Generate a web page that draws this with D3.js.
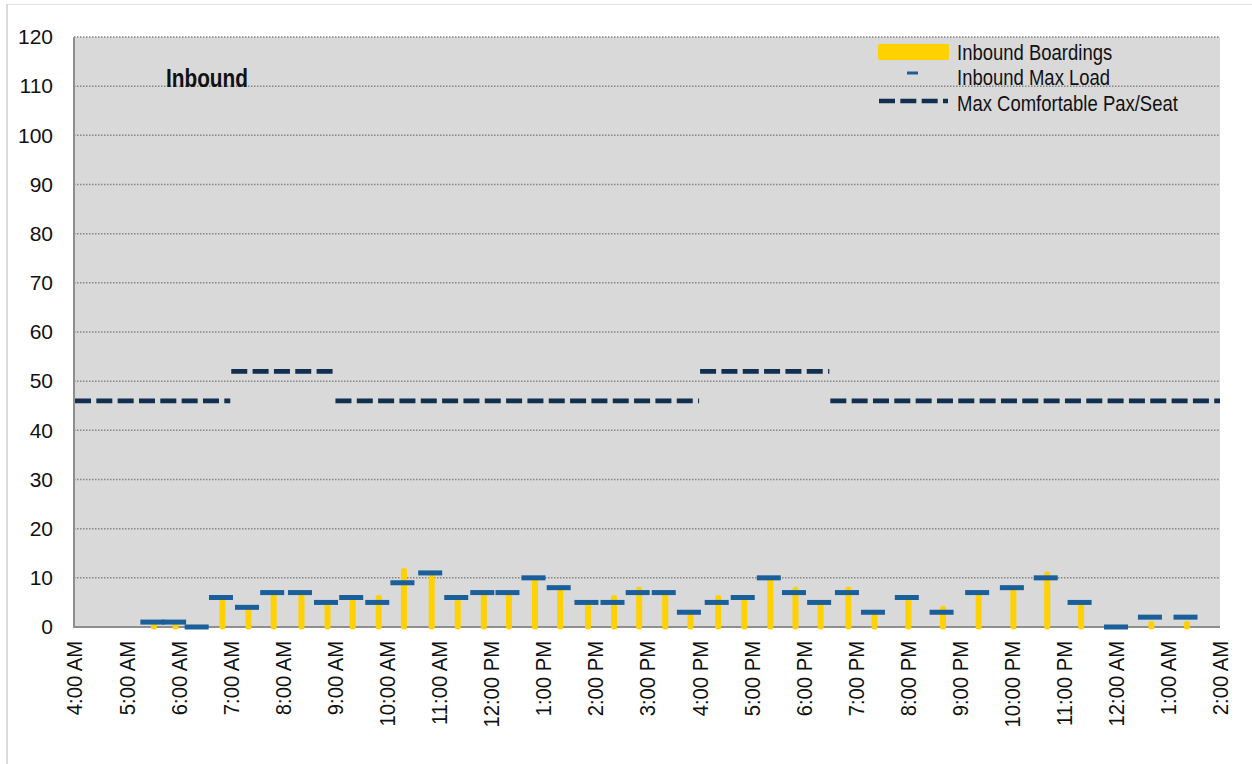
<!DOCTYPE html>
<html>
<head>
<meta charset="utf-8" />
<title>Inbound</title>
<script src="https://d3js.org/d3.v7.min.js"></script>
<style>
    body { margin: 0; background: #fff; }
    text { font-family: "Liberation Sans Narrow", "Arial Narrow", "Liberation Sans", sans-serif; fill: #111; }
</style>
</head>
<body>
<svg id="chart"></svg>
<script>
    // trip times (hours past midnight go on as 24:xx, 25:xx)
    var tripTimes = ["05:32", "05:57", "06:23", "06:51", "07:21", "07:50", "08:22", "08:52",
        "09:21", "09:51", "10:20", "10:52", "11:22", "11:52", "12:21", "12:51",
        "13:20", "13:52", "14:22", "14:51", "15:21", "15:50", "16:22", "16:52",
        "17:22", "17:51", "18:20", "18:52", "19:22", "20:01", "20:41", "21:22",
        "22:02", "22:41", "23:20", "24:02", "24:41", "25:22"];
    var boardings = [0.8, 0.8, 0, 6, 4, 7, 7, 5,
        6, 6.5, 12, 10.8, 6, 7, 7, 10,
        8, 5, 6.5, 8.2, 7, 3, 6.5, 6,
        10, 8.2, 5, 8.2, 3, 6, 4.3, 7,
        8, 11.3, 5, 0, 1.2, 1.2];
    var maxLoad = [1, 1, 0, 6, 4, 7, 7, 5,
        6, 5, 9, 11, 6, 7, 7, 10,
        8, 5, 5, 7, 7, 3, 5, 6,
        10, 7, 5, 7, 3, 6, 3, 7,
        8, 10, 5, 0, 2, 2];

    // max comfortable load, by time band
    var comfortFrom = ["04:00", "07:00", "09:00", "16:00", "18:30"];
    var comfortTo = ["07:00", "09:00", "16:00", "18:30", "26:00"];
    var comfortValue = [46, 52, 46, 52, 46];

    var yTicks = [0, 10, 20, 30, 40, 50, 60, 70, 80, 90, 100, 110, 120];
    var seriesNames = ["Inbound Boardings", "Inbound Max Load", "Max Comfortable Pax/Seat"];

    const W = 1252, H = 764;
    const pLeft = 74, pRight = 1220, pTop = 37, pBottom = 627;

    function toDate(s) {
        let p = s.split(":");
        return new Date(2020, 0, 1, +p[0], +p[1]);
    }

    let svg = d3.select('#chart').attr('width', W).attr('height', H);

    // outer frame
    svg.append('line').attr('x1', 7).attr('x2', W).attr('y1', 4.5).attr('y2', 4.5)
        .attr('stroke', '#e3e3e3').attr('stroke-width', 1);
    svg.append('line').attr('x1', 7).attr('x2', 7).attr('y1', 4).attr('y2', H)
        .attr('stroke', '#cfcfcf').attr('stroke-width', 1.5);

    let x = d3.scaleTime().domain([toDate("04:00"), toDate("26:00")]).range([pLeft, pRight]);
    let y = d3.scaleLinear().domain([0, 120]).range([pBottom, pTop]);

    // plot background
    svg.append('rect').attr('x', pLeft).attr('y', pTop)
        .attr('width', pRight - pLeft).attr('height', pBottom - pTop)
        .attr('fill', '#d9d9d9');

    // gridlines
    svg.append('g').selectAll('line')
        .data(yTicks.filter(d => d > 0))
        .enter().append('line')
        .attr('x1', pLeft).attr('x2', pRight)
        .attr('y1', d => y(d)).attr('y2', d => y(d))
        .attr('stroke', '#858585').attr('stroke-width', 1.5)
        .attr('stroke-dasharray', '1.5,1.5');

    // y axis labels
    let yAxis = d3.axisLeft(y).tickValues(yTicks).tickSize(0).tickPadding(21);
    let gy = svg.append('g').attr('transform', `translate(${pLeft},0)`).call(yAxis);
    gy.select('.domain').remove();
    gy.selectAll('text').attr('font-size', 21).attr('fill', '#111')
        .style('font-family', '"Liberation Sans Narrow", "Arial Narrow", sans-serif');

    // x axis labels (condensed look)
    let xAxis = d3.axisBottom(x).ticks(d3.timeHour.every(1))
        .tickFormat(d3.timeFormat("%-I:%M %p")).tickSize(0);
    let gx = svg.append('g').attr('transform', `translate(0,${pBottom})`).call(xAxis);
    gx.select('.domain').remove();
    gx.selectAll('text')
        .attr('font-size', 22).attr('fill', '#111')
        .style('font-family', '"Liberation Sans Narrow", "Arial Narrow", sans-serif')
        .attr('text-anchor', 'end')
        .attr('y', 0).attr('x', 0).attr('dy', '0.36em')
        .attr('transform', 'translate(0,14) rotate(-90) scale(0.92,1)');

    // axis lines
    svg.append('line').attr('x1', pLeft).attr('x2', pLeft).attr('y1', pTop).attr('y2', pBottom + 1)
        .attr('stroke', '#8f8f8f').attr('stroke-width', 2);
    svg.append('line').attr('x1', pLeft).attr('x2', pRight).attr('y1', pBottom).attr('y2', pBottom)
        .attr('stroke', '#8f8f8f').attr('stroke-width', 2);

    // comfortable load bands
    let bands = comfortValue.map((v, i) => ({ from: toDate(comfortFrom[i]), to: toDate(comfortTo[i]), value: v }));
    svg.append('g').selectAll('line')
        .data(bands)
        .enter().append('line')
        .attr('x1', d => x(d.from) + 1).attr('x2', d => x(d.to))
        .attr('y1', d => y(d.value)).attr('y2', d => y(d.value))
        .attr('stroke', '#112f4f').attr('stroke-width', 4.6)
        .attr('stroke-dasharray', '16,5.33');

    let trips = tripTimes.map((t, i) => ({ time: toDate(t), board: boardings[i], load: maxLoad[i] }));

    // boardings
    svg.append('g').selectAll('rect')
        .data(trips.filter(d => d.board > 0))
        .enter().append('rect')
        .attr('x', d => x(d.time) - 3)
        .attr('y', d => y(d.board))
        .attr('width', 6)
        .attr('height', d => y(0) - y(d.board) + 2.5)
        .attr('rx', 2.5)
        .attr('fill', '#ffd100');

    // max load
    svg.append('g').selectAll('rect')
        .data(trips)
        .enter().append('rect')
        .attr('x', d => x(d.time) - 13.5)
        .attr('y', d => y(d.load) - 2.5)
        .attr('width', 24)
        .attr('height', 5)
        .attr('fill', '#1a5e9a');

    // title
    svg.append('text')
        .attr('transform', 'translate(166,87) scale(0.8,1)')
        .attr('font-size', 26).attr('font-weight', 'bold')
        .text('Inbound');

    // legend
    let lg = svg.append('g');
    lg.append('rect').attr('x', 878).attr('y', 44).attr('width', 71).attr('height', 16)
        .attr('rx', 2).attr('fill', '#ffd100');
    lg.append('rect').attr('x', 907).attr('y', 71.5).attr('width', 11).attr('height', 3)
        .attr('fill', '#1a5e9a');
    lg.append('line').attr('x1', 879).attr('x2', 948).attr('y1', 101).attr('y2', 101)
        .attr('stroke', '#112f4f').attr('stroke-width', 4.6)
        .attr('stroke-dasharray', '16,5.33');
    lg.selectAll('text')
        .data(seriesNames)
        .enter().append('text')
        .attr('transform', (d, i) => `translate(957,${59.5 + i * 25.5}) scale(0.86,1)`)
        .attr('font-size', 21.5)
        .text(d => d);
</script>
</body>
</html>
